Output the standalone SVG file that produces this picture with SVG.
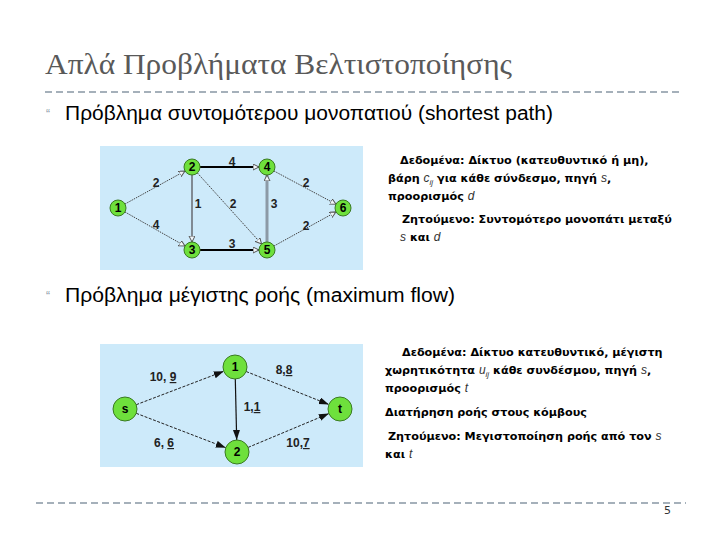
<svg xmlns="http://www.w3.org/2000/svg" width="720" height="540" viewBox="0 0 720 540">
<style>
.title{font-family:"Liberation Serif",serif;font-size:30px;fill:#595959}
.bul{font-family:"Liberation Sans",sans-serif;font-size:20px;fill:#000}
.mark{font-family:"Liberation Sans",sans-serif;font-size:12px;fill:#8a9aa8}
.desc{font-family:"DejaVu Sans",sans-serif;font-size:11.2px;font-weight:bold;fill:#000}
.var{font-family:"Liberation Sans",sans-serif;font-weight:normal;font-style:italic;fill:#333;font-size:12px}
.nl{font-family:"Liberation Sans",sans-serif;font-size:12px;font-weight:bold;fill:#000;text-anchor:middle}
.el{font-family:"Liberation Sans",sans-serif;font-size:12px;font-weight:bold;fill:#222;text-anchor:middle}
.node{fill:#6ee03c;stroke:#3a7a22;stroke-width:1}
.dot{stroke:#444;stroke-width:1;stroke-dasharray:1.5,1;fill:none}
.dash{stroke:#222;stroke-width:1;stroke-dasharray:3,1.5;fill:none}
.sep{stroke:#a5b0ba;stroke-width:2;stroke-dasharray:7,4}
</style>
<defs>
<marker id="open" markerUnits="userSpaceOnUse" markerWidth="8" markerHeight="8" refX="6" refY="3" orient="auto">
<path d="M0,0 L6,3 L0,6 z" fill="#f0f6fa" stroke="#555" stroke-width="1"/>
</marker>
<marker id="fill" markerUnits="userSpaceOnUse" markerWidth="12" markerHeight="8" refX="10" refY="3.5" orient="auto">
<path d="M0,0 L10,3.5 L0,7 z" fill="#111"/>
</marker>
</defs>
<rect width="720" height="540" fill="#fff"/>
<g id="title">
<text class="title" x="45" y="74" textLength="467" lengthAdjust="spacingAndGlyphs">Απλά Προβλήματα Βελτιστοποίησης</text>
<line class="sep" x1="45" y1="92" x2="682" y2="92"/>
</g>
<g id="bullet1">
<text class="mark" x="46" y="118">“</text>
<text class="bul" x="65" y="120" textLength="488" lengthAdjust="spacingAndGlyphs">Πρόβλημα συντομότερου μονοπατιού (shortest path)</text>
</g>
<g id="panel1">
<rect x="100" y="146" width="263" height="124" fill="#cdeafa"/>
</g>
<g id="connectors1">
<line class="dot" x1="125" y1="204" x2="185" y2="171" marker-end="url(#open)"/>
<line class="dot" x1="125" y1="212" x2="185" y2="246" marker-end="url(#open)"/>
<line x1="200" y1="167" x2="259" y2="167" stroke="#000" stroke-width="2" marker-end="url(#open)"/>
<line x1="192" y1="175" x2="192" y2="242" stroke="#666a70" stroke-width="1.5" marker-end="url(#open)"/>
<line class="dot" x1="197.4" y1="173" x2="261.6" y2="244" marker-end="url(#open)"/>
<line x1="267" y1="242" x2="267" y2="175" stroke="#8c9aa6" stroke-width="3" marker-end="url(#open)"/>
<line x1="200" y1="250" x2="259" y2="250" stroke="#000" stroke-width="2" marker-end="url(#open)"/>
<line class="dot" x1="274" y1="171" x2="336" y2="204.2" marker-end="url(#open)"/>
<line class="dot" x1="274" y1="246" x2="336" y2="211.9" marker-end="url(#open)"/>
<text class="el" x="156" y="187">2</text>
<text class="el" x="156" y="229">4</text>
<text class="el" x="232" y="166">4</text>
<text class="el" x="198" y="208">1</text>
<text class="el" x="233" y="208">2</text>
<text class="el" x="274" y="208">3</text>
<text class="el" x="306" y="187">2</text>
<text class="el" x="306" y="230">2</text>
<text class="el" x="232" y="248">3</text>
</g>
<g id="n1"><circle class="node" cx="118" cy="208" r="8"/><text class="nl" x="118" y="212">1</text></g>
<g id="n2"><circle class="node" cx="192" cy="167" r="8"/><text class="nl" x="192" y="171">2</text></g>
<g id="n3"><circle class="node" cx="192" cy="250" r="8"/><text class="nl" x="192" y="254">3</text></g>
<g id="n4"><circle class="node" cx="267" cy="167" r="8"/><text class="nl" x="267" y="171">4</text></g>
<g id="n5"><circle class="node" cx="267" cy="250" r="8"/><text class="nl" x="267" y="254">5</text></g>
<g id="n6"><circle class="node" cx="343" cy="208" r="8"/><text class="nl" x="343" y="212">6</text></g>
<g id="desc1">
<text class="desc" x="400" y="164">Δεδομένα: Δίκτυο (κατευθυντικό ή μη),</text>
<text class="desc" x="388" y="182">βάρη <tspan class="var">c<tspan font-size="8" dy="3">ij</tspan></tspan><tspan dy="-3"> για κάθε σύνδεσμο, πηγή </tspan><tspan class="var">s</tspan>,</text>
<text class="desc" x="388" y="200">προορισμός <tspan class="var">d</tspan></text>
<text class="desc" x="402" y="223">Ζητούμενο: Συντομότερο μονοπάτι μεταξύ</text>
<text class="desc" x="400" y="241"><tspan class="var">s</tspan> και <tspan class="var">d</tspan></text>
</g>
<g id="bullet2">
<text class="mark" x="46" y="300">“</text>
<text class="bul" x="65" y="302" textLength="390" lengthAdjust="spacingAndGlyphs">Πρόβλημα μέγιστης ροής (maximum flow)</text>
</g>
<g id="panel2">
<rect x="100" y="344" width="263" height="123" fill="#cdeafa"/>
</g>
<g id="connectors2">
<line class="dash" x1="136.2" y1="404.7" x2="223.8" y2="371.3" marker-end="url(#fill)"/>
<line class="dash" x1="136.2" y1="413.3" x2="225.8" y2="447.7" marker-end="url(#fill)"/>
<line class="dash" x1="246.1" y1="371.5" x2="328.9" y2="404.5" marker-end="url(#fill)"/>
<line class="dash" x1="248.1" y1="447.4" x2="328.9" y2="413.6" marker-end="url(#fill)"/>
<line x1="235.3" y1="379" x2="236.7" y2="440" stroke="#111" stroke-width="1.2" marker-end="url(#fill)"/>
<text class="el" x="163" y="381">10, <tspan text-decoration="underline">9</tspan></text>
<text class="el" x="164" y="447">6, <tspan text-decoration="underline">6</tspan></text>
<text class="el" x="284" y="374">8,<tspan text-decoration="underline">8</tspan></text>
<text class="el" x="252" y="411">1,<tspan text-decoration="underline">1</tspan></text>
<text class="el" x="298" y="447">10,<tspan text-decoration="underline">7</tspan></text>
</g>
<g id="ns"><circle class="node" cx="125" cy="409" r="12"/><text class="nl" x="125" y="413">s</text></g>
<g id="m1"><circle class="node" cx="235" cy="367" r="12"/><text class="nl" x="235" y="371">1</text></g>
<g id="m2"><circle class="node" cx="237" cy="452" r="12"/><text class="nl" x="237" y="456">2</text></g>
<g id="nt"><circle class="node" cx="340" cy="409" r="12"/><text class="nl" x="340" y="413">t</text></g>
<g id="desc2">
<text class="desc" x="402" y="356">Δεδομένα: Δίκτυο κατευθυντικό, μέγιστη</text>
<text class="desc" x="385" y="374">χωρητικότητα <tspan class="var">u<tspan font-size="8" dy="3">ij</tspan></tspan><tspan dy="-3"> κάθε συνδέσμου, πηγή </tspan><tspan class="var">s</tspan>,</text>
<text class="desc" x="385" y="392">προορισμός <tspan class="var">t</tspan></text>
<text class="desc" x="385" y="416">Διατήρηση ροής στους κόμβους</text>
<text class="desc" x="388" y="440">Ζητούμενο: Μεγιστοποίηση ροής από τον <tspan class="var">s</tspan></text>
<text class="desc" x="385" y="458">και <tspan class="var">t</tspan></text>
</g>
<g id="footer">
<line class="sep" x1="36" y1="503" x2="686" y2="503"/>
<text x="664" y="514" font-family="DejaVu Sans, sans-serif" font-size="11" fill="#333">5</text>
</g>
</svg>
